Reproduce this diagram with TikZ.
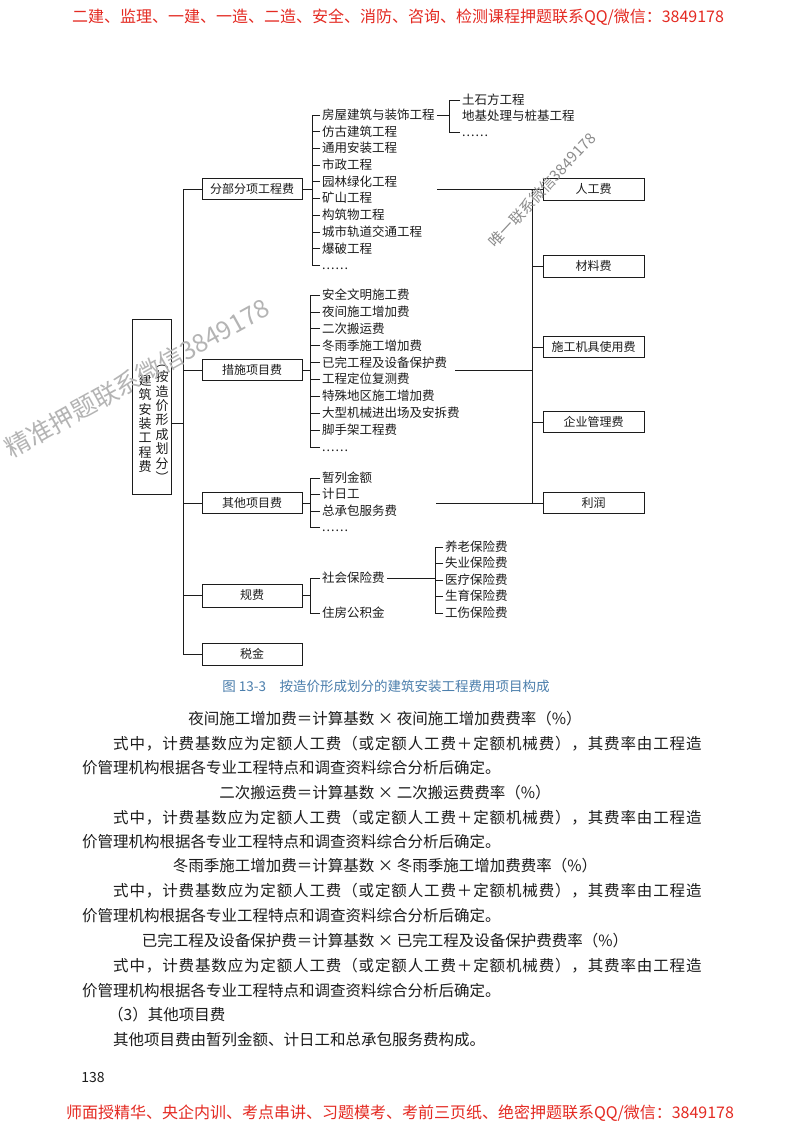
\documentclass[tikz,border=0pt]{standalone}
\usepackage{fontspec}
\setmainfont{Noto Sans CJK SC}
\newfontfamily\spreadfont[LetterSpace=5.6]{Noto Sans CJK SC}
\usetikzlibrary{calc}
\definecolor{inkcol}{HTML}{1C1C1C}
\definecolor{hdred}{HTML}{E42A22}
\definecolor{capblue}{HTML}{4B7EAC}
\definecolor{markgray}{HTML}{B4B4B4}
\definecolor{markdark}{HTML}{8C8C8C}
\newcommand{\sixdots}{.\kern1pt.\kern1pt.\kern1pt.\kern1pt.\kern1pt.}

\begin{document}
\begin{tikzpicture}[x=1pt, y=-1pt,
  link/.style={draw=inkcol, line width=0.7pt},
  box/.style={draw=inkcol, line width=0.7pt, fill=white, minimum width=100pt,
    minimum height=21pt, inner sep=0pt, text height=9.6pt, text depth=1.2pt,
    text=inkcol, font=\fontsize{12}{12}\selectfont},
  item/.style={anchor=west, inner xsep=2pt, inner ysep=0pt, text height=10pt,
    text depth=1.2pt, text=inkcol, font=\fontsize{12.5}{12.5}\selectfont},
  vcol/.style={inner sep=0pt, align=center, text=inkcol, font=\fontsize{13}{14.4}\selectfont},
  body/.style={anchor=west, inner sep=0pt, text height=12.5pt, text depth=1.5pt,
    text=inkcol, font=\fontsize{15.5}{15.5}\selectfont},
  justline/.style={body, font=\spreadfont\fontsize{15.5}{15.5}\selectfont},
  formula/.style={body, anchor=center},
  banner/.style={text=hdred, inner sep=0pt, font=\fontsize{16}{16}\selectfont}]

\fill[white] (0,0) rectangle (800,1132);
\useasboundingbox (0,0) rectangle (800,1132);

% --- Banners ---
\node[banner] (head) at (398,17) {二建、监理、一建、一造、二造、安全、消防、咨询、检测课程押题联系QQ/微信：3849178};
\node[banner] (foot) at (400,1113) {师面授精华、央企内训、考点串讲、习题模考、考前三页纸、绝密押题联系QQ/微信：3849178};

% --- Root box (vertical text) ---
\node[draw=inkcol, line width=0.7pt, minimum width=39pt, minimum height=175pt, inner sep=0pt]
  (root) at (151.5,406.5) {};
\node[vcol] (rootL) at (145,423.6) {建\\筑\\安\\装\\工\\程\\费};
\node[vcol] (rootR) at (162,423.6) {︵\\按\\造\\价\\形\\成\\划\\分\\︶};

% --- First level ---
\node[box] (fbfx) at (252,189) {分部分项工程费};
\node[box] (csxm) at (252,370) {措施项目费};
\node[box] (qtxm) at (252,503) {其他项目费};
\node[box, minimum height=23pt] (gf) at (252,595.5) {规费};
\node[box, minimum height=22pt] (sj) at (252,654) {税金};

\coordinate (trunk) at (183,0);
\coordinate (rootJ) at (183,423);
\draw[link] (rootJ -| root.east) -- (rootJ);
\draw[link] (fbfx.west) -- (fbfx.west -| trunk) -- (sj.west -| trunk) -- (sj.west);
\foreach \n in {csxm,qtxm,gf}
  \draw[link] (\n.west) -- (\n.west -| trunk);

% --- Fenbu fenxiang items ---
\coordinate (brkA) at (312,0);
\foreach \t [count=\i] in {房屋建筑与装饰工程,仿古建筑工程,通用安装工程,市政工程,园林绿化工程,
    矿山工程,构筑物工程,城市轨道交通工程,爆破工程,\sixdots}
  \node[item] (fb\i) at (320,{115+16.7*(\i-1)}) {\t};
\draw[link] (fb1.west -| brkA) -- (fb10.west -| brkA);
\foreach \i in {1,2,3,4,5,6,7,8,9,10}
  \draw[link] (fb\i.west) -- (fb\i.west -| brkA);
\draw[link] (fbfx.east) -- (fbfx.east -| brkA);

% House building sub items
\coordinate (brkB) at (449,0);
\foreach \t [count=\i] in {土石方工程,地基处理与桩基工程,\sixdots}
  \node[item] (tf\i) at (460,{100+16*(\i-1)}) {\t};
\draw[link] (fb1.east) -- (fb1.east -| brkB);
\draw[link] (tf1.west) -- (tf1.west -| brkB) -- (tf3.west -| brkB) -- (tf3.west);

% --- Cuoshi items ---
\coordinate (brkC) at (310,0);
\foreach \t [count=\i] in {安全文明施工费,夜间施工增加费,二次搬运费,冬雨季施工增加费,已完工程及设备保护费,
    工程定位复测费,特殊地区施工增加费,大型机械进出场及安拆费,脚手架工程费,\sixdots}
  \node[item] (cs\i) at (320,{295+16.9*(\i-1)}) {\t};
\draw[link] (cs1.west -| brkC) -- (cs10.west -| brkC);
\foreach \i in {1,2,3,4,5,6,7,8,9,10}
  \draw[link] (cs\i.west) -- (cs\i.west -| brkC);
\draw[link] (csxm.east) -- (csxm.east -| brkC);

% --- Qita items ---
\foreach \t [count=\i] in {暂列金额,计日工,总承包服务费,\sixdots}
  \node[item] (qt\i) at (320,{478+16.5*(\i-1)}) {\t};
\draw[link] (qt1.west -| brkC) -- (qt4.west -| brkC);
\foreach \i in {1,2,3,4}
  \draw[link] (qt\i.west) -- (qt\i.west -| brkC);
\draw[link] (qtxm.east) -- (qtxm.east -| brkC);

% --- Guifei items ---
\node[item] (gf1) at (320,578) {社会保险费};
\node[item] (gf2) at (320,613) {住房公积金};
\draw[link] (gf1.west) -- (gf1.west -| brkC) -- (gf2.west -| brkC) -- (gf2.west);
\draw[link] (gf.east) -- (gf.east -| brkC);

\coordinate (brkD) at (435,0);
\foreach \t [count=\i] in {养老保险费,失业保险费,医疗保险费,生育保险费,工伤保险费}
  \node[item] (sb\i) at (443,{547+16.5*(\i-1)}) {\t};
\draw[link] (sb1.west -| brkD) -- (sb5.west -| brkD);
\foreach \i in {1,2,3,4,5}
  \draw[link] (sb\i.west) -- (sb\i.west -| brkD);
\draw[link] (gf1.east) -- (gf1.east -| brkD);

% --- Right column ---
\node[box, minimum width=101pt, minimum height=22pt] (rgf) at (593.5,189) {人工费};
\node[box, minimum width=101pt, minimum height=22pt] (clf) at (593.5,266) {材料费};
\node[box, minimum width=101pt, minimum height=21pt] (jjf) at (593.5,347) {施工机具使用费};
\node[box, minimum width=101pt, minimum height=21pt] (glf) at (593.5,422) {企业管理费};
\node[box, minimum width=101pt, minimum height=21pt] (lr) at (593.5,503) {利润};

\coordinate (bus) at (532,0);
\coordinate (fbOut) at (437,189);
\coordinate (csOut) at (455,370);
\coordinate (qtOut) at (436,503);
\draw[link] (fbOut) -- (rgf.west);
\draw[link] (qtOut) -- (lr.west);
\draw[link] (csOut) -- (csOut -| bus);
\draw[link] (rgf.west -| bus) -- (lr.west -| bus);
\foreach \n in {clf,jjf,glf}
  \draw[link] (\n.west) -- (\n.west -| bus);

% --- Caption ---
\node[text=capblue, inner sep=0pt, font=\fontsize{13.5}{13.5}\selectfont] (cap) at (386,686)
  {图 13-3\quad 按造价形成划分的建筑安装工程费用项目构成};

% --- Body text ---
\node[formula] (f1) at (385,719) {夜间施工增加费＝计算基数 × 夜间施工增加费费率（\%）};
\node[justline] (p1a) at (113,744) {式中，计费基数应为定额人工费（或定额人工费＋定额机械费），其费率由工程造};
\node[body] (p1b) at (82,768) {价管理机构根据各专业工程特点和调查资料综合分析后确定。};
\node[formula] (f2) at (385,793) {二次搬运费＝计算基数 × 二次搬运费费率（\%）};
\node[justline] (p2a) at (113,818) {式中，计费基数应为定额人工费（或定额人工费＋定额机械费），其费率由工程造};
\node[body] (p2b) at (82,842) {价管理机构根据各专业工程特点和调查资料综合分析后确定。};
\node[formula] (f3) at (385,866) {冬雨季施工增加费＝计算基数 × 冬雨季施工增加费费率（\%）};
\node[justline] (p3a) at (113,891) {式中，计费基数应为定额人工费（或定额人工费＋定额机械费），其费率由工程造};
\node[body] (p3b) at (82,916) {价管理机构根据各专业工程特点和调查资料综合分析后确定。};
\node[formula] (f4) at (385,941) {已完工程及设备保护费＝计算基数 × 已完工程及设备保护费费率（\%）};
\node[justline] (p4a) at (113,966) {式中，计费基数应为定额人工费（或定额人工费＋定额机械费），其费率由工程造};
\node[body] (p4b) at (82,991) {价管理机构根据各专业工程特点和调查资料综合分析后确定。};
\node[body] (sec3) at (108,1015) {（3）其他项目费};
\node[body] (p5) at (113,1040) {其他项目费由暂列金额、计日工和总承包服务费构成。};
\node[inner sep=0pt, text=inkcol, font=\fontsize{14}{14}\selectfont] (pageno) at (93,1077) {138};

% --- Watermarks ---
\node[rotate=29, text=markgray, inner sep=0pt, font=\fontsize{25}{25}\selectfont] (markA) at (137,378)
  {精准押题联系微信3849178};
\node[rotate=47, text=markdark, inner sep=0pt, font=\fontsize{15}{15}\selectfont] (markB) at (542,190)
  {唯一联系微信3849178};

\end{tikzpicture}
\end{document}
